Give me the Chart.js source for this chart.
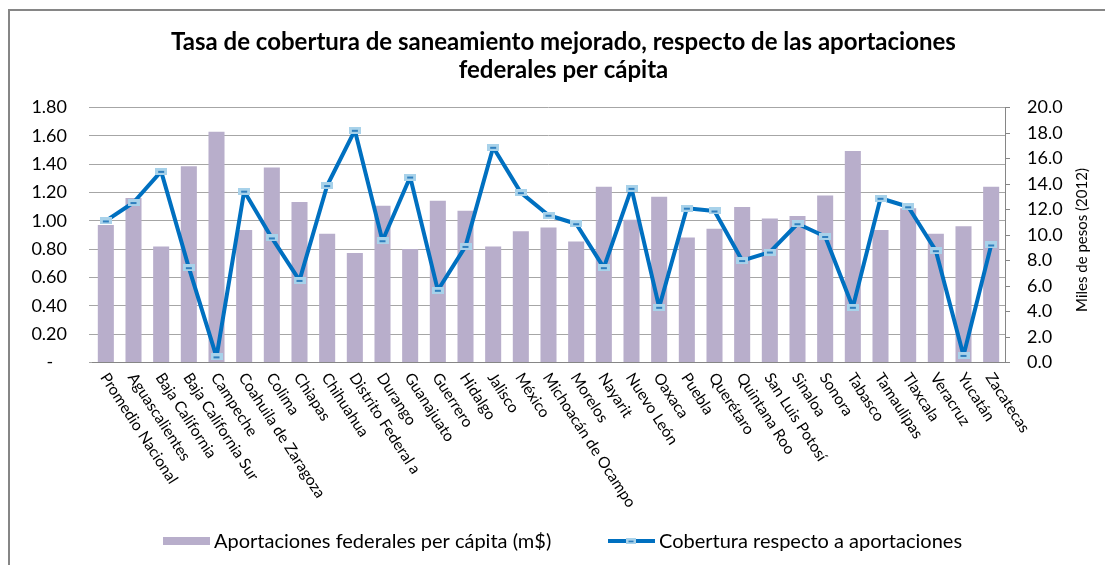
<!DOCTYPE html>
<html>
<head>
<meta charset="utf-8">
<script src="https://cdn.jsdelivr.net/npm/chart.js@4.4.1/dist/chart.umd.min.js"></script>
<style>
  html, body { margin: 0; padding: 0; background: #fff; }
  #wrap { width: 1105px; height: 565px; }
</style>
</head>
<body>
<div id="wrap"><canvas id="chart"></canvas></div>
<script>
const estados = [
  'Promedio Nacional', 'Aguascalientes', 'Baja California', 'Baja California Sur',
  'Campeche', 'Coahuila de Zaragoza', 'Colima', 'Chiapas', 'Chihuahua',
  'Distrito Federal a', 'Durango', 'Guanajuato', 'Guerrero', 'Hidalgo', 'Jalisco',
  'México', 'Michoacán de Ocampo', 'Morelos', 'Nayarit', 'Nuevo León', 'Oaxaca',
  'Puebla', 'Querétaro', 'Quintana Roo', 'San Luis Potosí', 'Sinaloa', 'Sonora',
  'Tabasco', 'Tamaulipas', 'Tlaxcala', 'Veracruz', 'Yucatán', 'Zacatecas'
];

// miles de pesos (eje derecho)
const aportaciones = [
  10.8, 12.9, 9.1, 15.4, 18.1, 10.4, 15.3, 12.6, 10.1, 8.6, 12.3,
  8.9, 12.7, 11.9, 9.1, 10.3, 10.6, 9.5, 13.8, 11.2, 13.0, 9.8,
  10.5, 12.2, 11.3, 11.5, 13.1, 16.6, 10.4, 12.1, 10.1, 10.7, 13.8
];

// tasa (eje izquierdo)
const cobertura = [
  1.00, 1.13, 1.35, 0.67, 0.04, 1.21, 0.88, 0.58, 1.25, 1.64, 0.86,
  1.31, 0.51, 0.82, 1.52, 1.20, 1.04, 0.98, 0.67, 1.23, 0.39, 1.09,
  1.07, 0.72, 0.78, 0.98, 0.89, 0.39, 1.16, 1.10, 0.79, 0.05, 0.83
];

const titulo = ['Tasa de cobertura de saneamiento mejorado, respecto de las aportaciones', 'federales per cápita'];
const serieBarras = 'Aportaciones federales per cápita (m$)';
const serieLinea = 'Cobertura respecto a aportaciones';
const tituloDerecho = 'Miles de pesos (2012)';

const barColor = '#b8aecb';
const lineColor = '#0070c0';

// small dash marker used by Excel for this series
const marker = document.createElement('canvas');
marker.width = 12;
marker.height = 7;
(function () {
  const m = marker.getContext('2d');
  m.fillStyle = '#a8d2ea';
  m.fillRect(0, 0, 12, 7);
  m.fillStyle = '#2e7fbe';
  m.fillRect(3, 3, 6, 2);
})();

const decor = {
  id: 'decor',
  afterDraw(chart) {
    const ctx = chart.ctx;
    const x = chart.scales.x;
    ctx.save();

    // rotated category labels
    ctx.font = '15.5px Lato';
    ctx.fillStyle = '#000';
    ctx.textAlign = 'left';
    ctx.textBaseline = 'middle';
    estados.forEach((name, i) => {
      ctx.save();
      ctx.translate(x.getPixelForTick(i) - 2, x.top + 12);
      ctx.rotate(57 * Math.PI / 180);
      ctx.fillText(name, 0, 0);
      ctx.restore();
    });

    // right axis title, reading upwards
    ctx.save();
    ctx.font = '15px Lato';
    ctx.textAlign = 'center';
    ctx.translate(1082, 240);
    ctx.rotate(-Math.PI / 2);
    ctx.fillText(tituloDerecho, 0, 0);
    ctx.restore();

    // legend
    ctx.font = '20px Lato';
    ctx.fillStyle = barColor;
    ctx.fillRect(163, 537, 47, 8);
    ctx.fillStyle = '#000';
    ctx.fillText(serieBarras, 214, 542);
    ctx.strokeStyle = lineColor;
    ctx.lineWidth = 4;
    ctx.beginPath();
    ctx.moveTo(608, 541);
    ctx.lineTo(655, 541);
    ctx.stroke();
    ctx.drawImage(marker, 626, 538, 10, 6);
    ctx.fillText(serieLinea, 659, 542);

    // outer frame
    ctx.strokeStyle = '#868686';
    ctx.lineWidth = 2;
    ctx.strokeRect(9, 10, 1110, 570);
    ctx.restore();
  }
};

Chart.defaults.font.family = 'Lato';
Chart.defaults.color = '#000';

new Chart(document.getElementById('chart'), {
  type: 'bar',
  data: {
    labels: estados,
    datasets: [{
      type: 'bar',
      label: serieBarras,
      data: aportaciones,
      yAxisID: 'y1',
      backgroundColor: barColor,
      categoryPercentage: 1,
      barPercentage: 0.58,
      order: 1
    }, {
      type: 'line',
      label: serieLinea,
      data: cobertura,
      yAxisID: 'y',
      borderColor: lineColor,
      backgroundColor: lineColor,
      borderWidth: 4,
      borderJoinStyle: 'round',
      tension: 0,
      pointStyle: marker,
      pointRadius: 5,
      order: 0
    }]
  },
  options: {
    responsive: true,
    maintainAspectRatio: false,
    animation: false,
    layout: { padding: { left: 22, top: 0, right: 0, bottom: 0 } },
    plugins: {
      legend: { display: false },
      tooltip: { enabled: false },
      title: {
        display: true,
        text: titulo,
        color: '#000',
        font: { size: 24, weight: 'bold', lineHeight: 1.18 },
        padding: { top: 28, bottom: 23 }
      }
    },
    scales: {
      x: {
        ticks: { display: false },
        grid: { display: false },
        border: { display: true, color: '#868686' },
        afterFit(scale) { scale.height = 202.5; }
      },
      y: {
        position: 'left',
        min: 0,
        max: 1.8,
        ticks: {
          stepSize: 0.2,
          padding: 22,
          font: { size: 18 },
          callback: v => (Math.abs(v) < 1e-9 ? '-   ' : v.toFixed(2))
        },
        grid: { color: '#a6a6a6', tickLength: 3 },
        border: { display: false },
        afterFit(scale) { scale.width = 70; }
      },
      y1: {
        position: 'right',
        min: 0,
        max: 20,
        ticks: {
          stepSize: 2,
          padding: 17,
          font: { size: 18 },
          callback: v => v.toFixed(1)
        },
        grid: { drawOnChartArea: false, color: '#868686', tickLength: 5 },
        border: { display: true, color: '#868686' },
        afterFit(scale) { scale.width = 100; }
      }
    }
  },
  plugins: [decor]
});
</script>
</body>
</html>
